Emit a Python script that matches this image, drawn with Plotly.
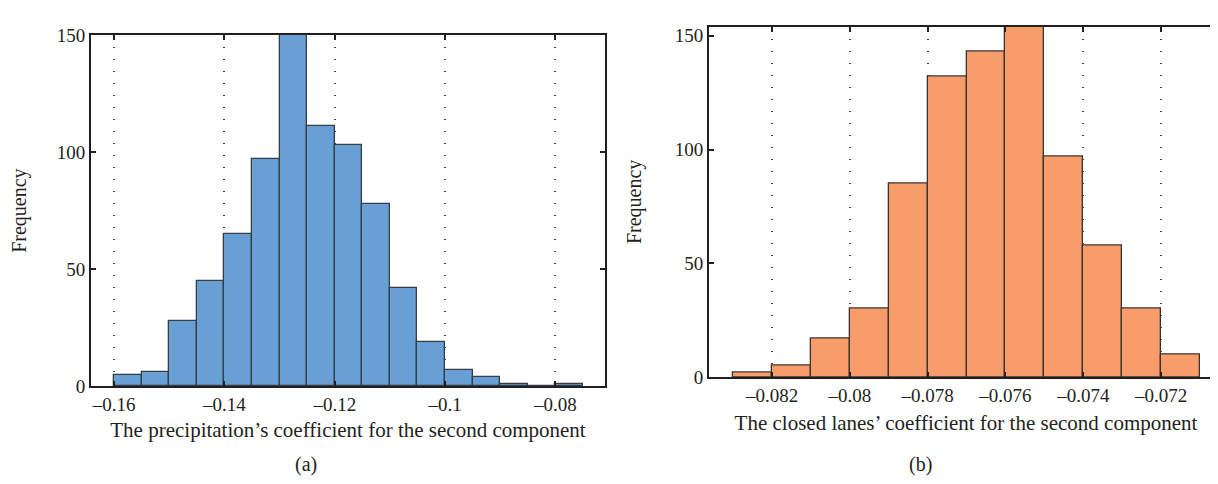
import plotly.graph_objects as go

# ---- data (a): precipitation coefficient histogram ----
bin_width_a = 0.005
bin_start_a = [-0.160, -0.155, -0.150, -0.145, -0.140, -0.135, -0.130, -0.125, -0.120,
               -0.115, -0.110, -0.105, -0.100, -0.095, -0.090, -0.085, -0.080]
counts_a = [5, 6, 28, 45, 65, 97, 150, 111, 103, 78, 42, 19, 7, 4, 1, 0, 1]
ticks_a = [-0.16, -0.14, -0.12, -0.10, -0.08]
ticktext_a = ["–0.16", "–0.14", "–0.12", "–0.1", "–0.08"]

# ---- data (b): closed lanes coefficient histogram ----
bin_width_b = 0.001
bin_start_b = [-0.083, -0.082, -0.081, -0.080, -0.079, -0.078, -0.077, -0.076,
               -0.075, -0.074, -0.073, -0.072]
counts_b = [2, 5, 17, 30, 85, 132, 143, 154, 97, 58, 30, 10]
ticks_b = [-0.082, -0.080, -0.078, -0.076, -0.074, -0.072]
ticktext_b = ["–0.082", "–0.08", "–0.078", "–0.076", "–0.074", "–0.072"]

y_ticks = [0, 50, 100, 150]

xlabel_a = "The precipitation’s coefficient for the second component"
xlabel_b = "The closed lanes’ coefficient for the second component"

FONT = "Liberation Serif"
TXT = "#231f20"

fig = go.Figure()
fig.add_trace(go.Bar(
    x=[s + bin_width_a / 2 for s in bin_start_a], y=counts_a, width=bin_width_a,
    marker=dict(color="#689fd5", line=dict(color="#373d45", width=1.3)),
    xaxis="x", yaxis="y", showlegend=False))
fig.add_trace(go.Bar(
    x=[s + bin_width_b / 2 for s in bin_start_b], y=counts_b, width=bin_width_b,
    marker=dict(color="#f79d6b", line=dict(color="#3a3330", width=1.3)),
    xaxis="x2", yaxis="y2", showlegend=False))

common_x = dict(showline=True, linecolor="#231f20", linewidth=2, mirror="ticks",
                ticks="inside", ticklen=5, tickwidth=2, tickcolor="#231f20",
                showgrid=True, gridcolor="#444444", griddash="1.5px,10.5px", gridwidth=1.5,
                zeroline=False, tickfont=dict(family=FONT, size=19, color=TXT))
common_y = dict(showline=True, linecolor="#231f20", linewidth=2, mirror="ticks",
                ticks="inside", ticklen=5, tickwidth=2, tickcolor="#231f20",
                showgrid=False, zeroline=False,
                tickfont=dict(family=FONT, size=19, color=TXT))

fig.update_layout(
    width=1218, height=484,
    margin=dict(l=0, r=0, t=0, b=0),
    paper_bgcolor="white", plot_bgcolor="white",
    bargap=0,
    xaxis=dict(domain=[83 / 1218, 597 / 1218], anchor="y", range=[-0.1642, -0.0710],
               tickvals=ticks_a, ticktext=ticktext_a,
               title=dict(text=xlabel_a, font=dict(family=FONT, size=21, color=TXT), standoff=8),
               **common_x),
    yaxis=dict(domain=[1 - 385 / 484, 1 - 17.7 / 484], anchor="x", range=[0, 150],
               tickvals=y_ticks,
               title=dict(text="Frequency", font=dict(family=FONT, size=20, color=TXT), standoff=28),
               **common_y),
    xaxis2=dict(domain=[701 / 1218, 1215 / 1218], anchor="y2", range=[-0.08362, -0.07041],
                tickvals=ticks_b, ticktext=ticktext_b,
                title=dict(text=xlabel_b, font=dict(family=FONT, size=21, color=TXT), standoff=10),
                **common_x),
    yaxis2=dict(domain=[1 - 375.5 / 484, 1 - 9 / 484], anchor="x2", range=[0, 154],
                tickvals=y_ticks,
                title=dict(text="Frequency", font=dict(family=FONT, size=20, color=TXT), standoff=28),
                **common_y),
    annotations=[
        dict(text="(a)", x=298 / 1218, y=1 - 467 / 484, xref="paper", yref="paper",
             showarrow=False, xanchor="center", yanchor="middle",
             font=dict(family=FONT, size=20, color=TXT)),
        dict(text="(b)", x=912 / 1218, y=1 - 467 / 484, xref="paper", yref="paper",
             showarrow=False, xanchor="center", yanchor="middle",
             font=dict(family=FONT, size=20, color=TXT)),
    ],
)

fig.write_html("out.html")
